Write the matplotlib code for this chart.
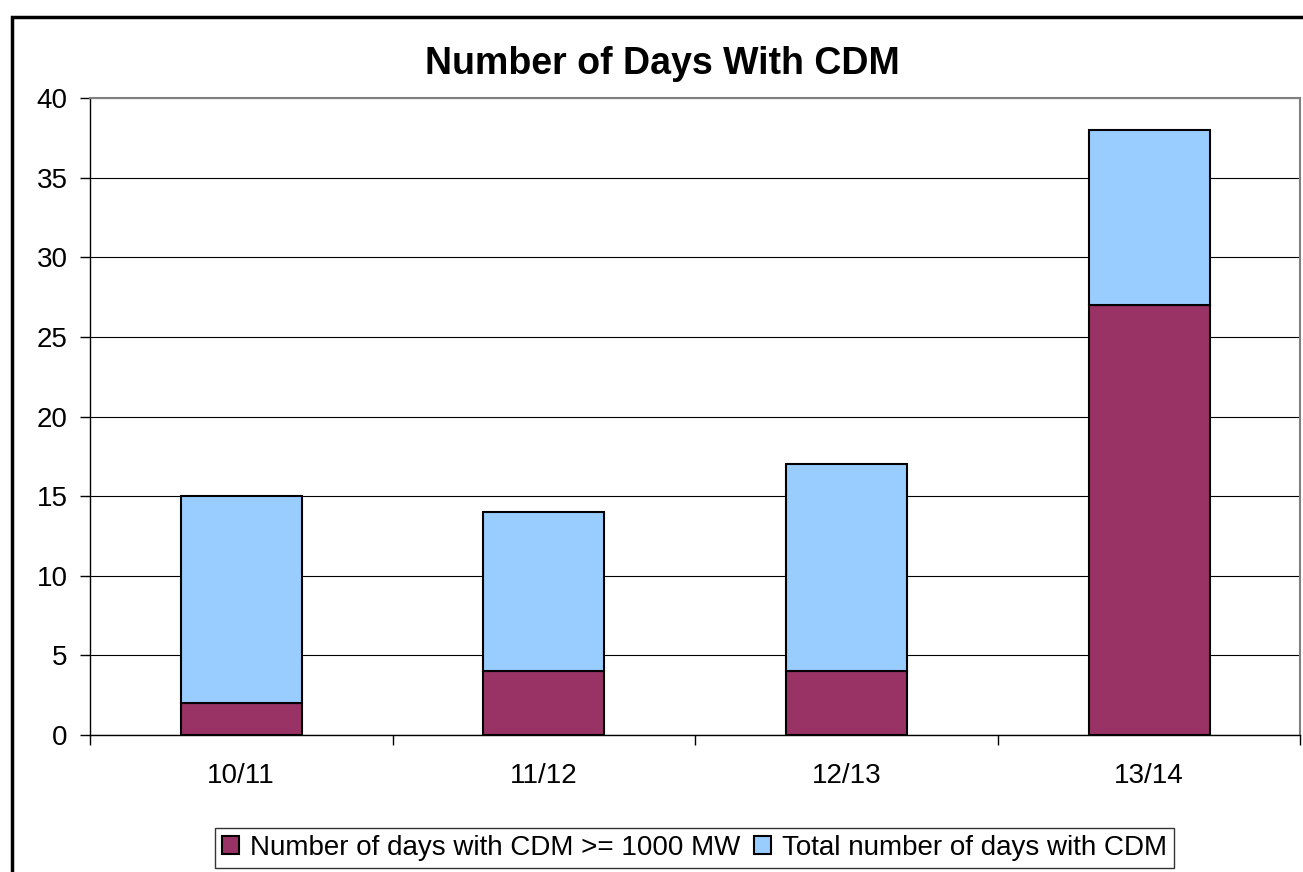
import matplotlib.pyplot as plt
import matplotlib.patches as mpatches
import numpy as np

plt.rcParams['font.family'] = ['Liberation Sans', 'DejaVu Sans']

seasons = ["10/11", "11/12", "12/13", "13/14"]
days_over_1000 = [2, 4, 4, 27]
total_days = [15, 14, 17, 38]
remaining = [t - b for t, b in zip(total_days, days_over_1000)]

fig = plt.figure(figsize=(13.03, 8.72), dpi=100)
ax = fig.add_axes([0.069, 0.157, 0.929, 0.7305])

x = np.arange(len(seasons))
ax.bar(x, days_over_1000, width=0.4, color="#993366", edgecolor="black",
       linewidth=1.5, label="Number of days with CDM >= 1000 MW", zorder=3)
ax.bar(x, remaining, width=0.4, bottom=days_over_1000, color="#99CCFF",
       edgecolor="black", linewidth=1.5, label="Total number of days with CDM", zorder=3)

ax.set_xlim(-0.5, 3.5)
ax.set_ylim(0, 40)
ax.set_yticks(range(0, 41, 5))
ax.yaxis.grid(True, color="black", linewidth=0.8, zorder=0)
ax.set_xticks(x)
ax.set_xticklabels(seasons)
ax.set_xticks(np.arange(-0.5, 4.0, 1.0), minor=True)
ax.tick_params(axis="x", which="major", length=0, labelsize=20, pad=20)
ax.tick_params(axis="x", which="minor", length=7, width=1, direction="out")
ax.tick_params(axis="y", labelsize=20, length=7, width=1, direction="out", pad=9)

for side in ["top", "right"]:
    ax.spines[side].set_color("#808080")
    ax.spines[side].set_linewidth(1.5)
for side in ["left", "bottom"]:
    ax.spines[side].set_color("black")
    ax.spines[side].set_linewidth(1)

fig.text(0.508, 0.927, "Number of Days With CDM", ha="center", va="center",
         fontsize=27, fontweight="bold")

leg = fig.legend(loc="center", bbox_to_anchor=(0.533, 0.0275), ncol=2,
                 fontsize=20, frameon=True, fancybox=False, edgecolor="black",
                 handlelength=0.6, handleheight=0.6, handletextpad=0.4,
                 columnspacing=0.5, borderpad=0.25, borderaxespad=0)
leg.get_frame().set_linewidth(1)

fig.patches.append(mpatches.Rectangle((0.009, -0.01), 1.1, 1.0 - 0.009,
                                      transform=fig.transFigure, fill=False,
                                      edgecolor="black", linewidth=2.5))

fig.savefig("out.png", dpi=100)
